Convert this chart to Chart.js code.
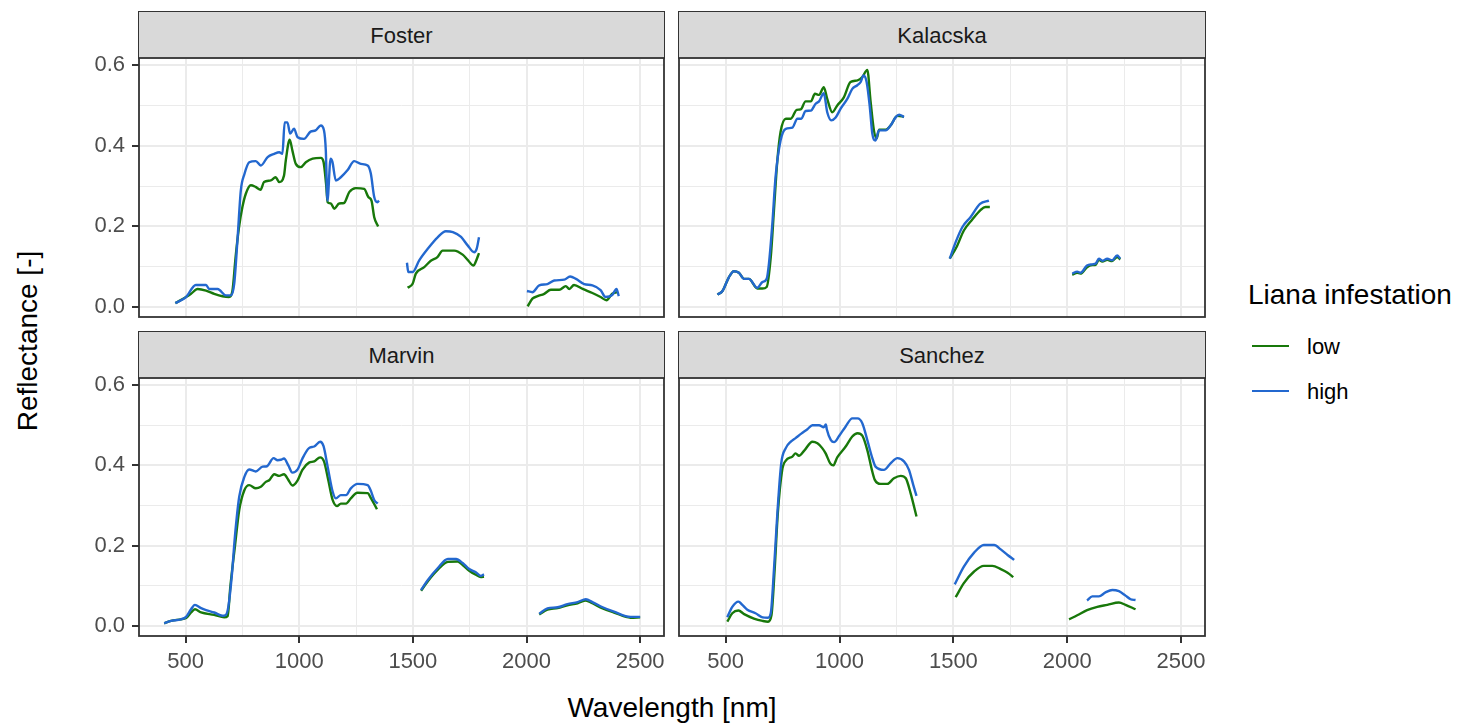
<!DOCTYPE html>
<html>
<head>
<meta charset="utf-8">
<script src="https://cdn.jsdelivr.net/npm/chart.js@4/dist/chart.umd.min.js"></script>
<style>
    body { margin: 0; background: #fff; font-family: 'Liberation Sans', Arial, sans-serif; }
    #page { position: relative; width: 1457px; height: 724px; overflow: hidden; background: #fff; }
    canvas { position: absolute; }
    .strip {
        position: absolute; box-sizing: border-box; background: #d9d9d9;
        border: 1px solid #333; border-bottom: none; color: #1a1a1a; font-size: 22px;
        display: flex; align-items: center; justify-content: center;
    }
    .txt { position: absolute; white-space: nowrap; line-height: 1; }
    .key { position: absolute; height: 2.4px; width: 37px; left: 1252px; }
</style>
</head>
<body>
<div id="page">
    <div class="strip" style="left:138px; top:11px; width:527px; height:48px">Foster</div>
    <div class="strip" style="left:678px; top:11px; width:528px; height:48px">Kalacska</div>
    <div class="strip" style="left:138px; top:331px; width:527px; height:48px">Marvin</div>
    <div class="strip" style="left:678px; top:331px; width:528px; height:48px">Sanchez</div>

    <div class="txt" style="left:28px; top:341px; font-size:28px; transform:translate(-50%,-50%) rotate(-90deg)">Reflectance [-]</div>
    <div class="txt" style="left:672px; top:694px; font-size:28px; transform:translateX(-50%)">Wavelength [nm]</div>

    <div class="txt" style="left:1248px; top:281px; font-size:28px; color:#000">Liana infestation</div>
    <div class="key" id="keyLow" style="top:345px"></div>
    <div class="txt" style="left:1307px; top:336px; font-size:22px; color:#000">low</div>
    <div class="key" id="keyHigh" style="top:390px"></div>
    <div class="txt" style="left:1307px; top:381px; font-size:22px; color:#000">high</div>
</div>
<script>
const groups = ['low', 'high']
const groupColors = ['#18780a', '#2368cf']

// akselinjer
const xTicks = [500, 1000, 1500, 2000, 2500]
const xMinor = [750, 1250, 1750, 2250]
const yTicks = [0, 0.2, 0.4, 0.6]
const yMinor = [0.1, 0.3, 0.5]

// [vaglangd nm, reflektans], null = lucka i spektrat
const fosterLow = [
    [455, 0.010], [502, 0.025], [524, 0.033], [553, 0.045], [590, 0.041], [626, 0.033], [662, 0.027],
    [691, 0.025], [706, 0.040], [720, 0.124], [735, 0.198], [750, 0.248], [765, 0.281], [787, 0.302],
    [808, 0.298], [830, 0.291], [845, 0.310], [875, 0.314], [896, 0.322], [912, 0.310], [933, 0.326],
    [941, 0.364], [958, 0.415], [970, 0.388], [985, 0.355], [1007, 0.347], [1029, 0.359], [1059, 0.368],
    [1095, 0.370], [1107, 0.360], [1118, 0.306], [1125, 0.260], [1139, 0.257], [1154, 0.244], [1176, 0.257],
    [1197, 0.258], [1220, 0.285], [1249, 0.295], [1286, 0.293], [1304, 0.273], [1318, 0.264], [1330, 0.223],
    [1347, 0.200],
    [1400, null],
    [1477, 0.048], [1499, 0.058], [1513, 0.083], [1550, 0.099], [1579, 0.115], [1608, 0.124], [1631, 0.140],
    [1682, 0.140], [1719, 0.130], [1741, 0.117], [1767, 0.103], [1777, 0.113], [1791, 0.134],
    [1900, null],
    [2005, 0.002], [2026, 0.021], [2049, 0.027], [2078, 0.033], [2107, 0.043], [2144, 0.043], [2173, 0.052],
    [2188, 0.045], [2209, 0.055], [2247, 0.045], [2290, 0.035], [2326, 0.025], [2352, 0.017], [2377, 0.033],
    [2399, 0.037]
]
const fosterHigh = [
    [455, 0.010], [502, 0.025], [545, 0.055], [590, 0.055], [604, 0.045], [641, 0.045], [678, 0.029],
    [700, 0.029], [714, 0.058], [729, 0.173], [743, 0.289], [759, 0.330], [780, 0.359], [809, 0.362],
    [831, 0.351], [861, 0.372], [890, 0.380], [912, 0.384], [926, 0.380], [936, 0.458], [948, 0.458],
    [960, 0.430], [977, 0.442], [993, 0.421], [1021, 0.417], [1050, 0.435], [1072, 0.438], [1095, 0.450],
    [1109, 0.438], [1117, 0.388], [1124, 0.264], [1138, 0.368], [1146, 0.360], [1161, 0.314], [1183, 0.322],
    [1212, 0.339], [1242, 0.362], [1271, 0.355], [1301, 0.351], [1315, 0.331], [1330, 0.273], [1344, 0.260],
    [1351, 0.264],
    [1400, null],
    [1474, 0.110], [1480, 0.087], [1499, 0.087], [1528, 0.116], [1566, 0.145], [1609, 0.173], [1645, 0.188],
    [1676, 0.186], [1712, 0.174], [1741, 0.153], [1770, 0.136], [1781, 0.145], [1791, 0.173],
    [1900, null],
    [2002, 0.040], [2026, 0.037], [2056, 0.054], [2092, 0.057], [2122, 0.066], [2166, 0.068], [2192, 0.076],
    [2218, 0.070], [2254, 0.057], [2290, 0.054], [2326, 0.042], [2348, 0.025], [2377, 0.030], [2396, 0.045],
    [2406, 0.027]
]

const kalacskaLow = [
    [464, 0.031], [486, 0.040], [514, 0.074], [536, 0.089], [558, 0.085], [581, 0.070], [602, 0.070],
    [639, 0.046], [661, 0.046], [680, 0.050], [698, 0.124], [712, 0.240], [727, 0.364], [741, 0.434],
    [764, 0.467], [786, 0.467], [812, 0.489], [829, 0.490], [851, 0.510], [874, 0.510], [892, 0.529],
    [910, 0.526], [931, 0.545], [946, 0.516], [968, 0.483], [990, 0.500], [1019, 0.520], [1048, 0.558],
    [1079, 0.562], [1100, 0.570], [1122, 0.588], [1136, 0.512], [1151, 0.438], [1163, 0.418], [1174, 0.440],
    [1203, 0.440], [1224, 0.450], [1254, 0.474], [1283, 0.472],
    [1400, null],
    [1484, 0.120], [1514, 0.149], [1546, 0.190], [1583, 0.217], [1620, 0.241], [1641, 0.248], [1660, 0.248],
    [1900, null],
    [2022, 0.080], [2044, 0.085], [2058, 0.083], [2087, 0.099], [2110, 0.104], [2125, 0.105], [2139, 0.117],
    [2154, 0.113], [2176, 0.117], [2197, 0.114], [2219, 0.124], [2233, 0.118]
]
const kalacskaHigh = [
    [464, 0.031], [486, 0.040], [514, 0.074], [536, 0.089], [558, 0.085], [581, 0.070], [602, 0.070],
    [639, 0.048], [661, 0.062], [680, 0.070], [690, 0.108], [705, 0.207], [719, 0.322], [741, 0.413],
    [764, 0.442], [793, 0.445], [815, 0.467], [832, 0.467], [851, 0.486], [874, 0.487], [895, 0.504],
    [910, 0.510], [931, 0.530], [946, 0.483], [964, 0.463], [983, 0.470], [1005, 0.492], [1034, 0.516],
    [1056, 0.541], [1078, 0.550], [1093, 0.558], [1105, 0.574], [1119, 0.558], [1133, 0.496], [1144, 0.430],
    [1158, 0.413], [1173, 0.438], [1203, 0.438], [1224, 0.450], [1247, 0.471], [1262, 0.477], [1283, 0.471],
    [1400, null],
    [1484, 0.120], [1510, 0.161], [1539, 0.198], [1575, 0.223], [1617, 0.256], [1656, 0.264],
    [1900, null],
    [2022, 0.083], [2044, 0.088], [2058, 0.085], [2087, 0.103], [2110, 0.106], [2125, 0.108], [2139, 0.120],
    [2154, 0.115], [2176, 0.120], [2197, 0.116], [2219, 0.128], [2233, 0.120]
]

const marvinLow = [
    [406, 0.007], [436, 0.013], [479, 0.017], [502, 0.020], [524, 0.034], [541, 0.042], [568, 0.034],
    [626, 0.028], [670, 0.022], [685, 0.025], [697, 0.099], [717, 0.198], [736, 0.289], [759, 0.339],
    [780, 0.351], [809, 0.343], [831, 0.347], [853, 0.359], [868, 0.363], [890, 0.378], [912, 0.374],
    [933, 0.378], [951, 0.365], [970, 0.350], [993, 0.363], [1014, 0.389], [1043, 0.407], [1066, 0.410],
    [1092, 0.420], [1109, 0.410], [1128, 0.363], [1147, 0.314], [1166, 0.299], [1183, 0.305], [1206, 0.305],
    [1227, 0.318], [1256, 0.332], [1301, 0.331], [1316, 0.318], [1342, 0.291],
    [1400, null],
    [1536, 0.088], [1566, 0.112], [1609, 0.140], [1654, 0.160], [1697, 0.161], [1719, 0.152], [1748, 0.138],
    [1777, 0.128], [1799, 0.122], [1813, 0.123],
    [1900, null],
    [2056, 0.029], [2092, 0.041], [2137, 0.045], [2180, 0.052], [2225, 0.057], [2261, 0.064], [2290, 0.057],
    [2335, 0.044], [2385, 0.034], [2458, 0.021], [2500, 0.022]
]
const marvinHigh = [
    [406, 0.007], [436, 0.013], [479, 0.017], [502, 0.023], [524, 0.042], [541, 0.053], [568, 0.045],
    [590, 0.040], [626, 0.034], [662, 0.026], [677, 0.028], [688, 0.048], [703, 0.123], [717, 0.223],
    [736, 0.322], [759, 0.372], [780, 0.390], [809, 0.385], [839, 0.397], [858, 0.398], [887, 0.418],
    [905, 0.413], [919, 0.414], [933, 0.417], [952, 0.400], [970, 0.382], [993, 0.390], [1014, 0.417],
    [1043, 0.443], [1066, 0.447], [1092, 0.459], [1107, 0.448], [1125, 0.397], [1147, 0.335], [1161, 0.318],
    [1183, 0.326], [1206, 0.326], [1227, 0.343], [1257, 0.354], [1301, 0.351], [1315, 0.337], [1330, 0.314],
    [1345, 0.305],
    [1400, null],
    [1536, 0.090], [1566, 0.115], [1609, 0.144], [1654, 0.167], [1690, 0.167], [1719, 0.157], [1748, 0.142],
    [1777, 0.134], [1799, 0.125], [1813, 0.129],
    [1900, null],
    [2056, 0.031], [2092, 0.044], [2137, 0.047], [2180, 0.055], [2225, 0.060], [2261, 0.067], [2290, 0.060],
    [2335, 0.047], [2385, 0.036], [2458, 0.023], [2500, 0.023]
]

const sanchezLow = [
    [507, 0.011], [529, 0.032], [556, 0.039], [581, 0.030], [624, 0.019], [662, 0.013], [686, 0.011],
    [701, 0.027], [715, 0.140], [729, 0.281], [748, 0.388], [764, 0.412], [793, 0.422], [807, 0.430],
    [822, 0.424], [844, 0.436], [881, 0.459], [903, 0.455], [924, 0.443], [939, 0.430], [959, 0.405],
    [972, 0.400], [990, 0.420], [1027, 0.447], [1056, 0.472], [1079, 0.480], [1100, 0.474], [1122, 0.438],
    [1142, 0.389], [1155, 0.364], [1181, 0.354], [1210, 0.354], [1239, 0.368], [1269, 0.374], [1291, 0.368],
    [1312, 0.331], [1338, 0.273],
    [1400, null],
    [1510, 0.072], [1546, 0.107], [1591, 0.136], [1634, 0.150], [1671, 0.150], [1708, 0.142], [1738, 0.133],
    [1763, 0.122],
    [1900, null],
    [2008, 0.017], [2044, 0.027], [2087, 0.040], [2132, 0.048], [2176, 0.053], [2227, 0.059], [2256, 0.053],
    [2300, 0.042]
]
const sanchezHigh = [
    [507, 0.022], [529, 0.048], [556, 0.061], [573, 0.053], [595, 0.041], [631, 0.032], [662, 0.022],
    [686, 0.021], [698, 0.032], [712, 0.140], [727, 0.281], [744, 0.405], [764, 0.443], [786, 0.459],
    [807, 0.468], [832, 0.479], [859, 0.490], [881, 0.500], [910, 0.500], [931, 0.495], [940, 0.502],
    [944, 0.490], [962, 0.463], [976, 0.458], [998, 0.473], [1027, 0.497], [1056, 0.517], [1079, 0.517],
    [1100, 0.505], [1122, 0.463], [1144, 0.418], [1158, 0.397], [1195, 0.389], [1224, 0.405], [1254, 0.418],
    [1283, 0.410], [1305, 0.389], [1324, 0.351], [1338, 0.324],
    [1400, null],
    [1506, 0.104], [1546, 0.148], [1591, 0.183], [1634, 0.202], [1679, 0.202], [1708, 0.191], [1738, 0.177],
    [1767, 0.165],
    [1900, null],
    [2087, 0.064], [2110, 0.074], [2139, 0.074], [2168, 0.084], [2198, 0.090], [2227, 0.087], [2256, 0.076],
    [2278, 0.067], [2300, 0.065]
]

const FONT = "'Liberation Sans', Arial, sans-serif"
const page = document.getElementById('page')
document.getElementById('keyLow').style.background = groupColors[0]
document.getElementById('keyHigh').style.background = groupColors[1]

const panels = [
    { series: [fosterLow, fosterHigh], col: 0, row: 0 },
    { series: [kalacskaLow, kalacskaHigh], col: 1, row: 0 },
    { series: [marvinLow, marvinHigh], col: 0, row: 1 },
    { series: [sanchezLow, sanchezHigh], col: 1, row: 1 }
]

// ram runt varje panel
const panelBorder = {
    id: 'panelBorder',
    afterDraw(chart) {
        const { ctx, chartArea: a } = chart
        ctx.save()
        ctx.strokeStyle = '#333333'
        ctx.lineWidth = 1.8
        ctx.strokeRect(a.left, a.top, a.right - a.left, a.bottom - a.top)
        ctx.restore()
    }
}

const isMajorX = (v) => xTicks.includes(v)
const isMajorY = (v) => yTicks.includes(v)

// Tar bort den extra marginalen som Chart.js lägger till för etiketterna
function noLabelPadding(s) {
    s.paddingTop = 0
    s.paddingBottom = 0
    s.paddingLeft = 0
    s.paddingRight = 0
}

function makeChart(p) {
    const isLeft = p.col === 0
    const isBottom = p.row === 1
    const canvas = document.createElement('canvas')
    canvas.width = isLeft ? 667 : 532
    canvas.height = isBottom ? 311 : 265
    canvas.style.left = (isLeft ? 0 : 676) + 'px'
    canvas.style.top = (isBottom ? 375 : 55) + 'px'
    page.appendChild(canvas)

    new Chart(canvas, {
        type: 'line',
        data: {
            datasets: groups.map((g, i) => ({
                label: g,
                data: p.series[i].map(([x, y]) => ({ x, y })),
                borderColor: groupColors[i],
                borderWidth: 2.4,
                pointRadius: 0,
                fill: false,
                spanGaps: false,
                cubicInterpolationMode: 'monotone',
                order: 2 - i
            }))
        },
        options: {
            responsive: false,
            animation: false,
            layout: {
                padding: { top: 3, right: 3, bottom: isBottom ? 0 : 3, left: isLeft ? 0 : 3 }
            },
            plugins: { legend: { display: false }, tooltip: { enabled: false } },
            scales: {
                x: {
                    type: 'linear',
                    min: 295,
                    max: 2605,
                    afterBuildTicks: (s) => {
                        s.ticks = [...xTicks, ...xMinor].sort((a, b) => a - b).map((v) => ({ value: v }))
                    },
                    afterFit: (s) => {
                        s.height = isBottom ? 50 : 0
                        noLabelPadding(s)
                    },
                    border: { display: false },
                    grid: {
                        color: '#ebebeb',
                        lineWidth: (c) => (c.tick && isMajorX(c.tick.value) ? 2 : 1),
                        drawTicks: isBottom,
                        tickLength: 7,
                        tickWidth: 2,
                        tickColor: (c) => (c.tick && isMajorX(c.tick.value) ? '#333333' : 'rgba(0,0,0,0)')
                    },
                    ticks: {
                        display: isBottom,
                        autoSkip: false,
                        maxRotation: 0,
                        padding: 6,
                        color: '#4d4d4d',
                        font: { family: FONT, size: 22 },
                        callback: (v) => (isMajorX(v) ? String(v) : '')
                    }
                },
                y: {
                    type: 'linear',
                    min: -0.0245,
                    max: 0.6175,
                    afterBuildTicks: (s) => {
                        s.ticks = [...yTicks, ...yMinor].sort((a, b) => a - b).map((v) => ({ value: v }))
                    },
                    afterFit: (s) => {
                        s.width = isLeft ? 139 : 0
                        noLabelPadding(s)
                    },
                    border: { display: false },
                    grid: {
                        color: '#ebebeb',
                        lineWidth: (c) => (c.tick && isMajorY(c.tick.value) ? 2 : 1),
                        drawTicks: isLeft,
                        tickLength: 7,
                        tickWidth: 2,
                        tickColor: (c) => (c.tick && isMajorY(c.tick.value) ? '#333333' : 'rgba(0,0,0,0)')
                    },
                    ticks: {
                        display: isLeft,
                        autoSkip: false,
                        padding: 7,
                        color: '#4d4d4d',
                        font: { family: FONT, size: 22 },
                        callback: (v) => (isMajorY(v) ? v.toFixed(1) : '')
                    }
                }
            }
        },
        plugins: [panelBorder]
    })
}

panels.forEach(makeChart)
</script>
</body>
</html>
